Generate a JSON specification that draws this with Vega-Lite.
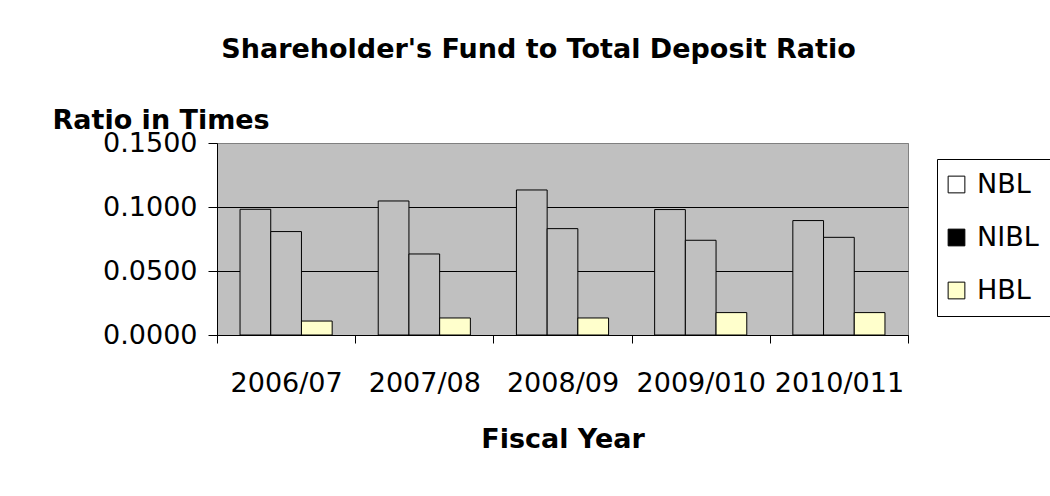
{
  "$schema": "https://vega.github.io/schema/vega-lite/v6.json",
  "autosize": "none",
  "width": 691,
  "height": 192,
  "padding": {"left": 217, "top": 143, "right": 142, "bottom": 161},
  "background": "white",
  "title": {
    "text": "Shareholder's Fund to Total Deposit Ratio",
    "font": "DejaVu Sans",
    "fontSize": 27,
    "fontWeight": "bold",
    "color": "black",
    "anchor": "middle",
    "dx": -24,
    "offset": 42
  },
  "data": {
    "values": [
      {"year": "2006/07", "bank": "NBL", "value": 0.0982},
      {"year": "2006/07", "bank": "NIBL", "value": 0.0808},
      {"year": "2006/07", "bank": "HBL", "value": 0.0109},
      {"year": "2007/08", "bank": "NBL", "value": 0.1047},
      {"year": "2007/08", "bank": "NIBL", "value": 0.0633},
      {"year": "2007/08", "bank": "HBL", "value": 0.0133},
      {"year": "2008/09", "bank": "NBL", "value": 0.1133},
      {"year": "2008/09", "bank": "NIBL", "value": 0.0831},
      {"year": "2008/09", "bank": "HBL", "value": 0.0133},
      {"year": "2009/010", "bank": "NBL", "value": 0.098},
      {"year": "2009/010", "bank": "NIBL", "value": 0.074},
      {"year": "2009/010", "bank": "HBL", "value": 0.0175},
      {"year": "2010/011", "bank": "NBL", "value": 0.0894},
      {"year": "2010/011", "bank": "NIBL", "value": 0.0763},
      {"year": "2010/011", "bank": "HBL", "value": 0.0175}
    ]
  },
  "encoding": {
    "x": {
      "field": "year",
      "type": "nominal",
      "sort": null,
      "scale": {"paddingInner": 0, "paddingOuter": 0},
      "axis": {
        "title": "Fiscal Year",
        "titleFont": "DejaVu Sans",
        "titleFontSize": 27,
        "titleFontWeight": "bold",
        "titleColor": "black",
        "titlePadding": 30,
        "labelFont": "DejaVu Sans",
        "labelFontSize": 27,
        "labelColor": "black",
        "labelAngle": 0,
        "labelPadding": 27,
        "labelOverlap": false,
        "labelBound": false,
        "tickBand": "extent",
        "tickSize": 8,
        "tickColor": "black",
        "domainColor": "black",
        "grid": false
      }
    },
    "xOffset": {
      "field": "bank",
      "type": "nominal",
      "sort": ["NBL", "NIBL", "HBL"],
      "scale": {"paddingInner": 0, "paddingOuter": 0.75}
    },
    "y": {
      "field": "value",
      "type": "quantitative",
      "scale": {"domain": [0, 0.15], "nice": false},
      "axis": {
        "values": [0, 0.05, 0.1, 0.15],
        "format": ".4f",
        "title": "Ratio in Times",
        "titleAngle": 0,
        "titleAlign": "left",
        "titleBaseline": "alphabetic",
        "titleX": -165,
        "titleY": -15,
        "titleFont": "DejaVu Sans",
        "titleFontSize": 27,
        "titleFontWeight": "bold",
        "titleColor": "black",
        "labelFont": "DejaVu Sans",
        "labelFontSize": 27,
        "labelColor": "black",
        "labelPadding": 11,
        "tickSize": 9,
        "tickColor": "black",
        "domainColor": "black",
        "grid": true,
        "gridColor": {"condition": {"test": "datum.value >= 0.15", "value": "#808080"}, "value": "black"},
        "gridOpacity": 1,
        "gridWidth": 1
      }
    }
  },
  "layer": [
    {
      "mark": {"type": "bar", "stroke": "black", "strokeWidth": 1},
      "encoding": {
        "fill": {
          "field": "bank",
          "type": "nominal",
          "scale": {"domain": ["NBL", "NIBL", "HBL"], "range": ["#C0C0C0", "#C0C0C0", "#FFFFCC"]},
          "legend": null
        }
      }
    },
    {
      "mark": {"type": "bar", "opacity": 0},
      "encoding": {
        "fill": {
          "field": "bank",
          "type": "nominal",
          "scale": {"domain": ["NBL", "NIBL", "HBL"], "range": ["#FFFFFF", "#000000", "#FFFFCC"]},
          "legend": {
            "title": null,
            "orient": "none",
            "legendX": 720,
            "legendY": 16,
            "padding": 12,
            "strokeColor": "black",
            "fillColor": "white",
            "symbolType": "square",
            "symbolSize": 280,
            "symbolOffset": -6,
            "symbolOpacity": 1,
            "symbolStrokeColor": "black",
            "symbolStrokeWidth": 1,
            "labelFont": "DejaVu Sans",
            "labelFontSize": 27,
            "labelColor": "black",
            "labelOffset": 7,
            "rowPadding": 25,
            "labelLimit": 200
          }
        }
      }
    }
  ],
  "resolve": {"scale": {"fill": "independent"}, "legend": {"fill": "independent"}},
  "config": {
    "view": {"fill": "#C0C0C0", "stroke": "#808080", "strokeWidth": 1}
  }
}
